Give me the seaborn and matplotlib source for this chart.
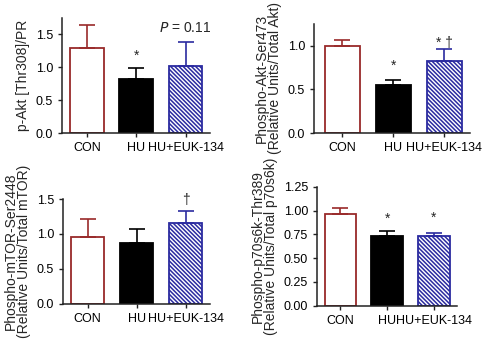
import matplotlib
matplotlib.use("Agg")
import matplotlib.pyplot as plt
import seaborn as sns

groups = ["CON", "HU", "HU+EUK-134"]

# bar heights and upper error (SEM) for each panel
akt308 = [1.30, 0.82, 1.02]
akt308_err = [0.34, 0.17, 0.37]
akt473 = [1.00, 0.545, 0.82]
akt473_err = [0.07, 0.065, 0.14]
mtor = [0.955, 0.87, 1.155]
mtor_err = [0.255, 0.20, 0.175]
p70 = [0.963, 0.73, 0.73]
p70_err = [0.067, 0.06, 0.037]

sns.set_style("ticks")
plt.rcParams["font.family"] = ["Liberation Sans", "DejaVu Sans"]
plt.rcParams["font.size"] = 10
plt.rcParams["hatch.linewidth"] = 1.1

red = "#992a2a"
blue = "#2b2ba0"
fills = ["white", "black", "white"]
edges = [red, "black", blue]

fig = plt.figure(figsize=(4.9, 3.51), dpi=100)

panels = [
    dict(rect=[0.127, 0.621, 0.302, 0.328], vals=akt308, err=akt308_err,
         ylim=(0, 1.75), yticks=[0, 0.5, 1.0, 1.5], fmt="{:.1f}",
         ylabel="p-Akt [Thr308]/PR", xlim=(-0.5, 2.5),
         marks=["", "*", ""], pads=[0, 0.18, 0]),
    dict(rect=[0.641, 0.621, 0.318, 0.311], vals=akt473, err=akt473_err,
         ylim=(0, 1.25), yticks=[0, 0.5, 1.0], fmt="{:.1f}",
         ylabel="Phospho-Akt-Ser473\n(Relative Units/Total Akt)", xlim=(-0.55, 2.5),
         marks=["", "*", "* \u2020"], pads=[0, 0.16, 0.07]),
    dict(rect=[0.129, 0.134, 0.300, 0.299], vals=mtor, err=mtor_err,
         ylim=(0, 1.5), yticks=[0, 0.5, 1.0, 1.5], fmt="{:.1f}",
         ylabel="Phospho-mTOR-Ser2448\n(Relative Units/Total mTOR)", xlim=(-0.5, 2.5),
         marks=["", "", "\u2020"], pads=[0, 0, 0.16]),
    dict(rect=[0.647, 0.129, 0.286, 0.339], vals=p70, err=p70_err,
         ylim=(0, 1.25), yticks=[0, 0.25, 0.5, 0.75, 1.0, 1.25], fmt="{:.2f}",
         ylabel="Phospho-p70s6k-Thr389\n(Relative Units/Total p70s6k)", xlim=(-0.5, 2.5),
         marks=["", "*", "*"], pads=[0, 0.12, 0.16]),
]

for p in panels:
    ax = fig.add_axes(p["rect"])
    sns.barplot(x=groups, y=p["vals"], hue=groups, palette=fills,
                width=0.68, legend=False, ax=ax, linewidth=1.3)
    for bar, ec, g in zip(ax.patches, edges, groups):
        bar.set_edgecolor(ec)
        if g == "HU+EUK-134":
            bar.set_hatch("\\" * 8)
    for i in range(len(groups)):
        ax.errorbar(i, p["vals"][i], yerr=[[0], [p["err"][i]]], fmt="none",
                    ecolor=edges[i], elinewidth=1.2, capsize=6, capthick=1.2)
        if p["marks"][i]:
            ax.text(i, p["vals"][i] + p["err"][i] + p["pads"][i], p["marks"][i],
                    ha="center", va="center", fontsize=10, clip_on=False)
    ax.set_xlim(*p["xlim"])
    ax.set_ylim(*p["ylim"])
    ax.set_yticks(p["yticks"])
    ax.set_yticklabels([p["fmt"].format(t) for t in p["yticks"]])
    ax.set_ylabel(p["ylabel"], linespacing=0.95, labelpad=4)
    ax.tick_params(length=3, width=1, colors="#222222", labelcolor="black",
                   labelsize=9)
    for s in ["left", "bottom"]:
        ax.spines[s].set_linewidth(1.1)
        ax.spines[s].set_color("#222222")
    sns.despine(ax=ax)
    if p["ylabel"].startswith("p-Akt"):
        ax.text(2, 1.59, "$P$ = 0.11", ha="center", va="center", fontsize=10)

fig.savefig("out.png", dpi=100)
